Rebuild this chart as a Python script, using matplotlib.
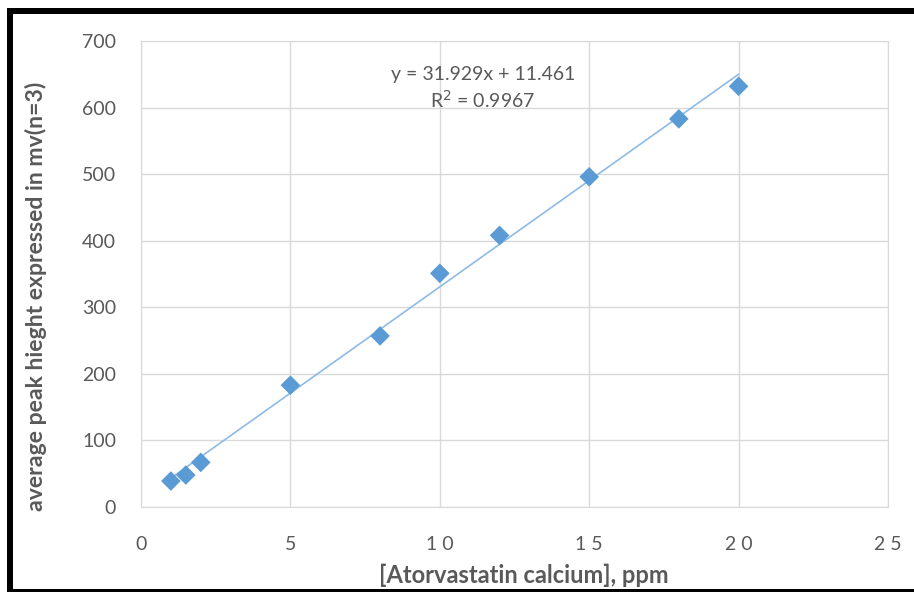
import matplotlib
matplotlib.use("Agg")
import numpy as np
from matplotlib import pyplot as plt
from matplotlib.patches import Rectangle

# calibration data
conc_ppm = [1, 1.5, 2, 5, 8, 10, 12, 15, 18, 20]
peak_mv = [39, 48, 67, 183, 257, 351, 408, 496, 583, 632]
x_ticks = [0, 5, 10, 15, 20, 25]
y_ticks = [0, 100, 200, 300, 400, 500, 600, 700]
slope, intercept = 31.929, 11.461

plt.rcParams['font.family'] = ['Lato', 'DejaVu Sans']
grey = '#595959'
blue = '#5b9bd5'

W, H = 914, 592
fig = plt.figure(figsize=(W / 100, H / 100), dpi=100)
ax = fig.add_axes([141 / W, 85 / H, 747 / W, 466 / H])

ax.grid(True, color='#d9d9d9', linewidth=1)
ax.set_axisbelow(True)
for s in ax.spines.values():
    s.set_color('#d9d9d9')
ax.tick_params(length=0, colors=grey, labelsize=14)
ax.tick_params(axis='y', pad=18)
ax.tick_params(axis='x', pad=21)
ax.set_xlim(0, 25)
ax.set_ylim(0, 700)
ax.set_xticks(x_ticks)
ax.set_xticklabels([' '.join(str(t)) for t in x_ticks])
ax.set_yticks(y_ticks)

# linear trendline
xs = np.array([conc_ppm[0], conc_ppm[-1]])
ax.plot(xs, slope * xs + intercept, color='#8dbbe6', linewidth=1.2, zorder=2)
ax.scatter(conc_ppm, peak_mv, marker='D', s=100, color=blue, edgecolors='none', zorder=3)

ax.text(11.45, 649, 'y = 31.929x + 11.461', ha='center', va='center', color=grey, fontsize=14)
ax.text(11.45, 611, 'R$^2$ = 0.9967', ha='center', va='center', color=grey, fontsize=14)

ax.set_xlabel('[Atorvastatin calcium], ppm', color=grey, fontsize=17, fontweight='bold')
ax.xaxis.set_label_coords(0.513, -0.122)
ax.set_ylabel('average peak hieght expressed in mv(n=3)', color=grey, fontsize=16.6,
              fontweight='bold')
ax.yaxis.set_label_coords(-94 / 747, 0.453)

# black frame: top, left and bottom bands (no right side)
def band(x0, y0, x1, y1):
    fig.patches.append(Rectangle((x0 / W, 1 - y1 / H), (x1 - x0) / W, (y1 - y0) / H,
                                 transform=fig.transFigure, facecolor='black', edgecolor='none'))

band(7, 8, W, 14)
band(7, 8, 13, H)
band(7, 589, W, H)

fig.savefig('out.png', dpi=100)
